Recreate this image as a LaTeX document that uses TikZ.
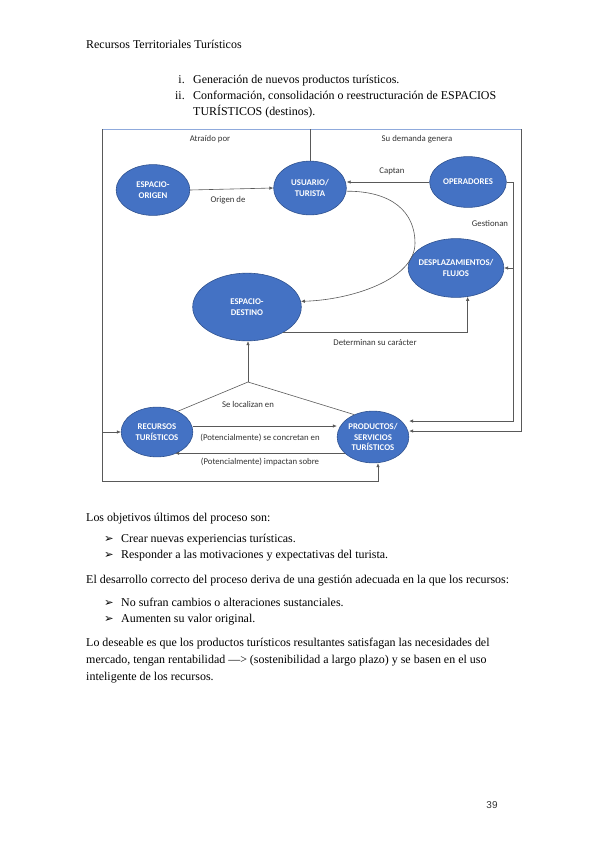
\documentclass[tikz,border=0pt]{standalone}
\usepackage{fontspec}
\setmainfont{Liberation Serif}
\newfontfamily\calibri{Carlito}
\newfontfamily\symb{DejaVu Sans}
\newfontfamily\arial{Liberation Sans}
\usetikzlibrary{positioning,arrows.meta,shapes.geometric}
\definecolor{bubblefill}{HTML}{4472C4}
\definecolor{bubbleline}{HTML}{2F528F}
\definecolor{linkgray}{HTML}{595959}
\definecolor{framblue}{HTML}{8FAADC}

\begin{document}
\begin{tikzpicture}[x=1bp, y=-1bp,
    bubble/.style={ellipse, draw=bubbleline, fill=bubblefill, line width=0.6pt,
        inner xsep=-8pt, inner ysep=0pt, text=white, align=center,
        font=\calibri\bfseries\fontsize{8.8}{10.5}\selectfont},
    link/.style={draw=linkgray, line width=0.6pt},
    tip/.style={-{Latex[length=4pt,width=3.5pt]}},
    lbl/.style={font=\calibri\fontsize{8.8}{10}\selectfont, text=black!80, inner sep=0pt},
    txt/.style={anchor=base west, inner sep=0pt, font=\fontsize{12}{14}\selectfont}]
    \useasboundingbox (0,0) rectangle (599,848);

    % Page header and list
    \node[txt] (hdr) at (86,48) {Recursos Territoriales Turísticos};
    \foreach \n/\y/\t in {i/83/{Generación de nuevos productos turísticos.},
                          ii/99/{Conformación, consolidación o reestructuración de ESPACIOS}} {
        \node[txt, anchor=base east] (num\n) at (185,\y) {\n.};
        \node[txt] (item\n) at (193,\y) {\t};
    }
    \node[txt] (itemiib) at (193,115) {TURÍSTICOS (destinos).};

    % Bubbles
    \node[bubble, minimum width=74, minimum height=51] (ori) at (153,190) {ESPACIO-\\ORIGEN};
    \node[bubble, minimum width=73, minimum height=54] (usu) at (310,188) {USUARIO/\\TURISTA};
    \node[bubble, minimum width=77, minimum height=51] (opr) at (468,182) {OPERADORES};
    \node[bubble, minimum width=96, minimum height=59] (dsp) at (456,268) {DESPLAZAMIENTOS/\\FLUJOS};
    \node[bubble, minimum width=109, minimum height=68] (des) at (247,307) {ESPACIO-\\DESTINO};
    \node[bubble, minimum width=72, minimum height=50] (rec) at (157,432) {RECURSOS\\TURÍSTICOS};
    \node[bubble, minimum width=72, minimum height=52] (prod) at (373,437) {PRODUCTOS/\\SERVICIOS\\TURÍSTICOS};

    % Corner points of the frame
    \coordinate (tl) at (102,129);
    \coordinate (tr) at (521,129);
    \coordinate (bl) at (102,481);
    \coordinate (rr) at (513,182);
    \coordinate (jn) at (248,382);
    \coordinate (bend) at (415,243);

    % Frame: Atraido por / Su demanda genera
    \draw[framblue, line width=0.6pt] (tl) -- (tr);
    \draw[link] (usu.north) -- (usu.north |- tl);
    \draw[link] (tl) -- (bl);
    \draw[link, tip] (bl) -| ([xshift=5]prod.south);
    \draw[link, tip] (tl |- rec.west) -- (rec.west);
    \draw[link, tip] (tr) |- ([yshift=6]prod.east);

    % Operadores
    \draw[link] (opr.east) -- (rr);
    \draw[link, tip] (rr) |- ([yshift=16]prod.east);
    \draw[link, tip] (rr |- dsp.east) -- (dsp.east);
    \draw[link, tip] (opr.west) -- (opr.west -| usu.east);

    \draw[link, tip] (ori.east) -- (usu.west);
    \draw[link, tip] (usu.-5) .. controls (392,191) and (415,212) .. (bend)
                              .. controls (415,280) and (350,300) .. (des.6);
    \draw[link, tip] (des.-35) -| (dsp.-68);

    % Se localizan en
    \draw[link] (rec.45) -- (jn);
    \draw[link] (prod.130) -- (jn);
    \draw[link, tip] (jn) -- (jn |- des.south);

    % (Potencialmente)
    \draw[link, tip] ([yshift=6]rec.east) -- ([yshift=6]rec.east -| prod.west);
    \draw[link, tip] (prod.-150) -- (prod.-150 -| rec.-50);

    % Connector labels
    \node[lbl] (l1) at (210,139) {Atraído por};
    \node[lbl] (l2) at (417,139) {Su demanda genera};
    \node[lbl] (l3) at (228,200) {Origen de};
    \node[lbl] (l4) at (392,171) {Captan};
    \node[lbl] (l5) at (490,223) {Gestionan};
    \node[lbl] (l6) at (375,343) {Determinan su carácter};
    \node[lbl] (l7) at (248,404) {Se localizan en};
    \node[lbl] (l8) at (260,438) {(Potencialmente) se concretan en};
    \node[lbl] (l9) at (260,462) {(Potencialmente) impactan sobre};

    % Text below the diagram
    \foreach \y/\t [count=\k] in {521/{Los objetivos últimos del proceso son:},
                                  583/{El desarrollo correcto del proceso deriva de una gestión adecuada en la que los recursos:},
                                  646/{Lo deseable es que los productos turísticos resultantes satisfagan las necesidades del},
                                  663/{mercado, tengan rentabilidad —> (sostenibilidad a largo plazo) y se basen en el uso},
                                  680/{inteligente de los recursos.}} {
        \node[txt] (p\k) at (86,\y) {\t};
    }
    \foreach \y/\t [count=\k] in {542/{Crear nuevas experiencias turísticas.},
                                  558/{Responder a las motivaciones y expectativas del turista.},
                                  606/{No sufran cambios o alteraciones sustanciales.},
                                  622/{Aumenten su valor original.}} {
        \node[anchor=base west, inner sep=0pt, font=\symb\fontsize{11.5}{11.5}\selectfont] (b\k) at (104,\y) {➢};
        \node[txt] (bt\k) at (121,\y) {\t};
    }

    \node[font=\arial\fontsize{10}{12}\selectfont, text=black!80, inner sep=0pt] (pg) at (492,805) {39};
\end{tikzpicture}
\end{document}
